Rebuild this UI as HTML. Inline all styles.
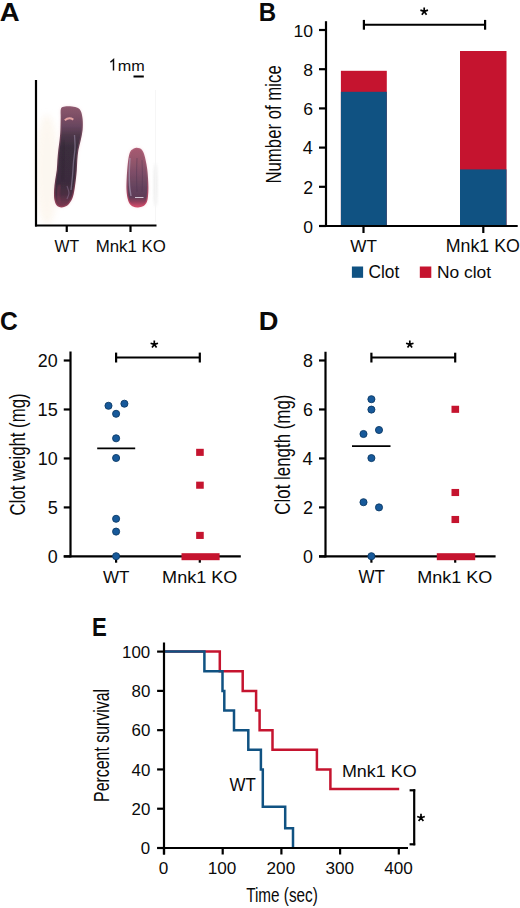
<!DOCTYPE html>
<html><head><meta charset="utf-8"><style>
html,body{margin:0;padding:0;background:#fff;}
svg{display:block;}
text{font-family:"Liberation Sans",sans-serif;fill:#0a0a0a;}
</style></head><body>
<svg width="520" height="908" viewBox="0 0 520 908">
<rect width="520" height="908" fill="#fff"/>
<text x="-0.39" y="20.80" font-size="26.04" font-weight="bold" textLength="19.89" lengthAdjust="spacingAndGlyphs">A</text>
<text x="258.87" y="20.80" font-size="26.04" font-weight="bold" textLength="17.40" lengthAdjust="spacingAndGlyphs">B</text>
<text x="-0.08" y="330.43" font-size="26.57" font-weight="bold" textLength="17.75" lengthAdjust="spacingAndGlyphs">C</text>
<text x="258.66" y="330.40" font-size="26.04" font-weight="bold" textLength="19.69" lengthAdjust="spacingAndGlyphs">D</text>
<text x="92.01" y="635.70" font-size="26.47" font-weight="bold" textLength="14.77" lengthAdjust="spacingAndGlyphs">E</text>
<g id="photo">
<defs>
<filter id="bl1" x="-50%" y="-50%" width="200%" height="200%"><feGaussianBlur stdDeviation="0.9"/></filter>
<filter id="bl2" x="-30%" y="-30%" width="160%" height="160%"><feGaussianBlur stdDeviation="0.55"/></filter>
<filter id="bl4" x="-50%" y="-50%" width="200%" height="200%"><feGaussianBlur stdDeviation="1.6"/></filter>
<filter id="bl3" x="-50%" y="-50%" width="200%" height="200%"><feGaussianBlur stdDeviation="3"/></filter>
<linearGradient id="wtr" x1="0" y1="0" x2="0" y2="1">
<stop offset="0" stop-color="#8e5a70"/><stop offset="0.3" stop-color="#6a4458"/><stop offset="0.7" stop-color="#5a3448"/><stop offset="1" stop-color="#944058"/></linearGradient>
<linearGradient id="wtg" x1="0" y1="0" x2="0" y2="1">
<stop offset="0" stop-color="#8a566c"/><stop offset="0.08" stop-color="#7e5066"/><stop offset="0.18" stop-color="#6a4660"/><stop offset="0.28" stop-color="#4e384a"/><stop offset="0.4" stop-color="#3b2d3e"/>
<stop offset="0.75" stop-color="#3a2c3c"/><stop offset="0.88" stop-color="#4a2e42"/><stop offset="1" stop-color="#7a3850"/></linearGradient>
<linearGradient id="kor" x1="0" y1="0" x2="0" y2="1">
<stop offset="0" stop-color="#b06078"/><stop offset="0.5" stop-color="#8a5068"/><stop offset="0.85" stop-color="#a84260"/><stop offset="1" stop-color="#d04a68"/></linearGradient>
<linearGradient id="kog" x1="0" y1="0" x2="0" y2="1">
<stop offset="0" stop-color="#a65a70"/><stop offset="0.2" stop-color="#94566c"/><stop offset="0.45" stop-color="#7a4c66"/>
<stop offset="0.65" stop-color="#66445e"/><stop offset="0.84" stop-color="#5e3c58"/><stop offset="0.92" stop-color="#8e3c5a"/><stop offset="1" stop-color="#c84a68"/></linearGradient>
</defs>
<ellipse cx="47" cy="170" rx="12" ry="55" fill="#fcf4ea" opacity="0.7" filter="url(#bl3)"/>
<path d="M61.00,108.50 C61.72,106.57 63.17,106.75 65.00,106.40 C66.83,106.05 69.83,106.13 72.00,106.40 C74.17,106.67 76.47,107.07 78.00,108.00 C79.53,108.93 80.42,110.00 81.20,112.00 C81.98,114.00 82.47,117.00 82.70,120.00 C82.93,123.00 82.92,126.67 82.60,130.00 C82.28,133.33 81.50,136.67 80.80,140.00 C80.10,143.33 78.98,146.67 78.40,150.00 C77.82,153.33 77.57,156.67 77.30,160.00 C77.03,163.33 77.05,166.67 76.80,170.00 C76.55,173.33 76.20,176.67 75.80,180.00 C75.40,183.33 74.95,187.00 74.40,190.00 C73.85,193.00 73.57,195.50 72.50,198.00 C71.43,200.50 69.83,203.43 68.00,205.00 C66.17,206.57 63.40,207.37 61.50,207.40 C59.60,207.43 57.80,206.60 56.60,205.20 C55.40,203.80 54.72,201.53 54.30,199.00 C53.88,196.47 53.95,193.17 54.10,190.00 C54.25,186.83 54.75,183.33 55.20,180.00 C55.65,176.67 56.43,173.33 56.80,170.00 C57.17,166.67 57.15,163.33 57.40,160.00 C57.65,156.67 57.93,153.33 58.30,150.00 C58.67,146.67 59.25,143.33 59.60,140.00 C59.95,136.67 60.22,133.67 60.40,130.00 C60.58,126.33 60.60,121.58 60.70,118.00 C60.80,114.42 60.28,110.43 61.00,108.50Z" fill="#f2c8d0" opacity="0.55" filter="url(#bl4)"/>
<path d="M131.50,150.00 C132.52,148.98 134.17,148.18 135.50,147.90 C136.83,147.62 138.38,147.90 139.50,148.30 C140.62,148.70 141.42,149.27 142.20,150.30 C142.98,151.33 143.60,152.72 144.20,154.50 C144.80,156.28 145.30,158.58 145.80,161.00 C146.30,163.42 146.83,166.17 147.20,169.00 C147.57,171.83 147.80,174.83 148.00,178.00 C148.20,181.17 148.40,185.00 148.40,188.00 C148.40,191.00 148.27,193.67 148.00,196.00 C147.73,198.33 147.55,200.33 146.80,202.00 C146.05,203.67 144.97,205.10 143.50,206.00 C142.03,206.90 139.75,207.32 138.00,207.40 C136.25,207.48 134.42,207.15 133.00,206.50 C131.58,205.85 130.42,204.92 129.50,203.50 C128.58,202.08 128.00,200.25 127.50,198.00 C127.00,195.75 126.65,193.00 126.50,190.00 C126.35,187.00 126.48,183.33 126.60,180.00 C126.72,176.67 126.95,173.17 127.20,170.00 C127.45,166.83 127.73,163.67 128.10,161.00 C128.47,158.33 128.83,155.83 129.40,154.00 C129.97,152.17 130.48,151.02 131.50,150.00Z" fill="#f2c0cc" opacity="0.55" filter="url(#bl4)"/>
<path d="M61.00,108.50 C61.72,106.57 63.17,106.75 65.00,106.40 C66.83,106.05 69.83,106.13 72.00,106.40 C74.17,106.67 76.47,107.07 78.00,108.00 C79.53,108.93 80.42,110.00 81.20,112.00 C81.98,114.00 82.47,117.00 82.70,120.00 C82.93,123.00 82.92,126.67 82.60,130.00 C82.28,133.33 81.50,136.67 80.80,140.00 C80.10,143.33 78.98,146.67 78.40,150.00 C77.82,153.33 77.57,156.67 77.30,160.00 C77.03,163.33 77.05,166.67 76.80,170.00 C76.55,173.33 76.20,176.67 75.80,180.00 C75.40,183.33 74.95,187.00 74.40,190.00 C73.85,193.00 73.57,195.50 72.50,198.00 C71.43,200.50 69.83,203.43 68.00,205.00 C66.17,206.57 63.40,207.37 61.50,207.40 C59.60,207.43 57.80,206.60 56.60,205.20 C55.40,203.80 54.72,201.53 54.30,199.00 C53.88,196.47 53.95,193.17 54.10,190.00 C54.25,186.83 54.75,183.33 55.20,180.00 C55.65,176.67 56.43,173.33 56.80,170.00 C57.17,166.67 57.15,163.33 57.40,160.00 C57.65,156.67 57.93,153.33 58.30,150.00 C58.67,146.67 59.25,143.33 59.60,140.00 C59.95,136.67 60.22,133.67 60.40,130.00 C60.58,126.33 60.60,121.58 60.70,118.00 C60.80,114.42 60.28,110.43 61.00,108.50Z" fill="url(#wtr)" filter="url(#bl2)"/>
<path d="M62.22,108.95 C62.76,107.23 63.64,107.89 65.24,107.68 C66.85,107.47 69.83,107.45 71.84,107.69 C73.85,107.93 75.97,108.31 77.32,109.11 C78.68,109.91 79.31,110.64 79.99,112.47 C80.67,114.31 81.18,117.20 81.40,120.10 C81.62,123.00 81.62,126.61 81.31,129.88 C80.99,133.15 80.23,136.42 79.53,139.73 C78.83,143.05 77.71,146.42 77.12,149.78 C76.53,153.14 76.27,156.54 76.00,159.90 C75.73,163.25 75.75,166.58 75.50,169.90 C75.25,173.23 74.91,176.53 74.51,179.85 C74.11,183.16 73.66,186.82 73.12,189.77 C72.59,192.71 72.30,195.12 71.30,197.49 C70.31,199.86 68.79,202.58 67.16,204.01 C65.52,205.45 63.07,206.04 61.48,206.10 C59.88,206.16 58.57,205.57 57.59,204.35 C56.60,203.14 55.95,201.17 55.58,198.79 C55.22,196.41 55.25,193.16 55.40,190.06 C55.55,186.96 56.04,183.49 56.49,180.17 C56.94,176.85 57.72,173.49 58.09,170.14 C58.46,166.80 58.45,163.43 58.70,160.10 C58.95,156.76 59.23,153.47 59.59,150.14 C59.96,146.82 60.54,143.48 60.89,140.14 C61.24,136.79 61.51,133.75 61.70,130.06 C61.88,126.38 61.91,121.56 62.00,118.04 C62.09,114.52 61.68,110.68 62.22,108.95Z" fill="url(#wtg)" filter="url(#bl2)"/>
<path d="M64.8,120.2 Q69,116.8 73.3,119.6" stroke="#e4a2a2" stroke-width="2" fill="none" filter="url(#bl2)"/>
<path d="M74.50,135.00 C74.58,137.17 75.17,143.50 75.00,148.00 C74.83,152.50 73.92,157.33 73.50,162.00 C73.08,166.67 72.92,171.33 72.50,176.00 C72.08,180.67 71.25,187.67 71.00,190.00" stroke="#8a7c96" stroke-width="1.3" fill="none" opacity="0.7" filter="url(#bl2)"/>
<path d="M64.00,140.00 C63.92,143.33 63.75,153.33 63.50,160.00 C63.25,166.67 62.67,176.67 62.50,180.00" stroke="#271c29" stroke-width="2" fill="none" opacity="0.3" filter="url(#bl1)"/>
<path d="M59.50,185.00 C59.28,186.67 58.12,192.00 58.20,195.00 C58.28,198.00 59.70,201.67 60.00,203.00" stroke="#8a3a55" stroke-width="2.4" fill="none" opacity="0.5" filter="url(#bl1)"/>
<path d="M67.00,186.00 C67.33,187.17 69.00,190.83 69.00,193.00 C69.00,195.17 67.33,198.00 67.00,199.00" stroke="#8a7090" stroke-width="1.2" fill="none" opacity="0.55" filter="url(#bl2)"/>
<path d="M131.50,150.00 C132.52,148.98 134.17,148.18 135.50,147.90 C136.83,147.62 138.38,147.90 139.50,148.30 C140.62,148.70 141.42,149.27 142.20,150.30 C142.98,151.33 143.60,152.72 144.20,154.50 C144.80,156.28 145.30,158.58 145.80,161.00 C146.30,163.42 146.83,166.17 147.20,169.00 C147.57,171.83 147.80,174.83 148.00,178.00 C148.20,181.17 148.40,185.00 148.40,188.00 C148.40,191.00 148.27,193.67 148.00,196.00 C147.73,198.33 147.55,200.33 146.80,202.00 C146.05,203.67 144.97,205.10 143.50,206.00 C142.03,206.90 139.75,207.32 138.00,207.40 C136.25,207.48 134.42,207.15 133.00,206.50 C131.58,205.85 130.42,204.92 129.50,203.50 C128.58,202.08 128.00,200.25 127.50,198.00 C127.00,195.75 126.65,193.00 126.50,190.00 C126.35,187.00 126.48,183.33 126.60,180.00 C126.72,176.67 126.95,173.17 127.20,170.00 C127.45,166.83 127.73,163.67 128.10,161.00 C128.47,158.33 128.83,155.83 129.40,154.00 C129.97,152.17 130.48,151.02 131.50,150.00Z" fill="url(#kor)" filter="url(#bl2)"/>
<path d="M132.42,150.92 C133.27,150.05 134.66,149.40 135.77,149.17 C136.88,148.94 138.16,149.20 139.06,149.52 C139.96,149.84 140.51,150.19 141.16,151.09 C141.82,151.98 142.41,153.22 142.97,154.91 C143.53,156.61 144.04,158.89 144.53,161.26 C145.02,163.64 145.55,166.36 145.91,169.17 C146.27,171.97 146.50,174.94 146.70,178.08 C146.90,181.22 147.10,185.04 147.10,188.00 C147.10,190.96 146.96,193.61 146.71,195.85 C146.46,198.10 146.26,199.96 145.61,201.47 C144.97,202.97 144.10,204.12 142.82,204.89 C141.54,205.66 139.48,206.03 137.94,206.10 C136.39,206.17 134.77,205.87 133.54,205.32 C132.32,204.77 131.39,204.06 130.59,202.79 C129.80,201.53 129.23,199.86 128.77,197.72 C128.30,195.57 127.94,192.88 127.80,189.94 C127.65,186.99 127.78,183.35 127.90,180.05 C128.02,176.74 128.25,173.25 128.50,170.10 C128.74,166.96 129.03,163.80 129.39,161.18 C129.75,158.56 130.14,156.09 130.64,154.38 C131.15,152.67 131.56,151.79 132.42,150.92Z" fill="url(#kog)" filter="url(#bl2)"/>
<path d="M130.00,158.00 C129.88,160.33 129.37,167.33 129.30,172.00 C129.23,176.67 129.32,182.00 129.60,186.00 C129.88,190.00 130.77,194.33 131.00,196.00" stroke="#b0a0bc" stroke-width="1.4" fill="none" opacity="0.6" filter="url(#bl2)"/>
<path d="M137.00,158.00 C136.92,160.83 136.50,169.33 136.50,175.00 C136.50,180.67 136.92,189.17 137.00,192.00" stroke="#4a3250" stroke-width="1.2" fill="none" opacity="0.35" filter="url(#bl2)"/>
<path d="M142.00,160.00 C142.08,162.67 142.50,170.67 142.50,176.00 C142.50,181.33 142.08,189.33 142.00,192.00" stroke="#4a3250" stroke-width="1.2" fill="none" opacity="0.3" filter="url(#bl2)"/>
<path d="M135,197.8 L143.5,197.6" stroke="#e4dce8" stroke-width="1.8" fill="none" opacity="0.85" filter="url(#bl2)"/>
<ellipse cx="155.5" cy="185" rx="1.6" ry="22" fill="#dcdcdc" opacity="0.6" filter="url(#bl4)"/>
<line x1="155.6" y1="90" x2="155.6" y2="222" stroke="#f6f6f6" stroke-width="1"/>
</g>

<path d="M113.5,70.6 L113.5,59.6 L110.4,62.2" stroke="#0a0a0a" stroke-width="1.45" fill="none" stroke-linejoin="miter"/>
<text x="117.71" y="70.60" font-size="14.70" textLength="26.96" lengthAdjust="spacingAndGlyphs">mm</text>
<rect x="133.50" y="75.50" width="10.30" height="2.00" fill="#000"/>
<line x1="36.00" y1="80.00" x2="36.00" y2="226.50" stroke="#000" stroke-width="2.2" stroke-linecap="butt"/>
<line x1="35.00" y1="225.50" x2="156.50" y2="225.50" stroke="#000" stroke-width="2.2" stroke-linecap="butt"/>
<line x1="66.75" y1="225.50" x2="66.75" y2="232.00" stroke="#000" stroke-width="2.2" stroke-linecap="butt"/>
<line x1="130.50" y1="225.50" x2="130.50" y2="232.00" stroke="#000" stroke-width="2.2" stroke-linecap="butt"/>
<text x="54.52" y="251.70" font-size="17.02" textLength="24.63" lengthAdjust="spacingAndGlyphs">WT</text>
<text x="95.71" y="251.63" font-size="17.14" textLength="70.20" lengthAdjust="spacingAndGlyphs">Mnk1 KO</text>
<rect x="340.90" y="70.80" width="45.90" height="154.20" fill="#c5142f"/>
<rect x="340.90" y="91.80" width="45.90" height="133.20" fill="#105282"/>
<rect x="460.00" y="51.00" width="46.50" height="174.00" fill="#c5142f"/>
<rect x="460.00" y="169.40" width="46.50" height="55.60" fill="#105282"/>
<line x1="326.00" y1="21.20" x2="326.00" y2="227.00" stroke="#000" stroke-width="2.2" stroke-linecap="butt"/>
<line x1="319.00" y1="226.00" x2="326.00" y2="226.00" stroke="#000" stroke-width="2.2" stroke-linecap="butt"/>
<text x="303.20" y="232.63" font-size="17.24" textLength="9.78" lengthAdjust="spacingAndGlyphs">0</text>
<line x1="319.00" y1="186.80" x2="326.00" y2="186.80" stroke="#000" stroke-width="2.2" stroke-linecap="butt"/>
<text x="303.29" y="193.60" font-size="17.49" textLength="9.92" lengthAdjust="spacingAndGlyphs">2</text>
<line x1="319.00" y1="147.60" x2="326.00" y2="147.60" stroke="#000" stroke-width="2.2" stroke-linecap="butt"/>
<text x="302.75" y="154.40" font-size="17.75" textLength="10.07" lengthAdjust="spacingAndGlyphs">4</text>
<line x1="319.00" y1="108.40" x2="326.00" y2="108.40" stroke="#000" stroke-width="2.2" stroke-linecap="butt"/>
<text x="303.29" y="115.03" font-size="17.24" textLength="9.78" lengthAdjust="spacingAndGlyphs">6</text>
<line x1="319.00" y1="69.20" x2="326.00" y2="69.20" stroke="#000" stroke-width="2.2" stroke-linecap="butt"/>
<text x="303.29" y="75.83" font-size="17.24" textLength="9.78" lengthAdjust="spacingAndGlyphs">8</text>
<line x1="319.00" y1="30.00" x2="326.00" y2="30.00" stroke="#000" stroke-width="2.2" stroke-linecap="butt"/>
<text x="293.44" y="36.63" font-size="17.24" textLength="19.56" lengthAdjust="spacingAndGlyphs">10</text>
<line x1="319.00" y1="226.00" x2="517.70" y2="226.00" stroke="#000" stroke-width="2.2" stroke-linecap="butt"/>
<line x1="363.50" y1="226.00" x2="363.50" y2="233.00" stroke="#000" stroke-width="2.2" stroke-linecap="butt"/>
<line x1="483.30" y1="226.00" x2="483.30" y2="233.00" stroke="#000" stroke-width="2.2" stroke-linecap="butt"/>
<line x1="363.90" y1="24.70" x2="485.10" y2="24.70" stroke="#000" stroke-width="2" stroke-linecap="butt"/>
<line x1="363.90" y1="19.90" x2="363.90" y2="29.70" stroke="#000" stroke-width="2.2" stroke-linecap="butt"/>
<line x1="485.10" y1="19.90" x2="485.10" y2="29.70" stroke="#000" stroke-width="2.2" stroke-linecap="butt"/>
<path d="M424.20,11.40L424.20,7.40M424.20,11.40L428.00,10.16M424.20,11.40L426.55,14.64M424.20,11.40L421.85,14.64M424.20,11.40L420.40,10.16" stroke="#000" stroke-width="1.7" stroke-linecap="butt" fill="none"/>
<text x="350.21" y="252.00" font-size="17.02" textLength="26.67" lengthAdjust="spacingAndGlyphs">WT</text>
<text x="445.73" y="252.12" font-size="17.82" textLength="74.12" lengthAdjust="spacingAndGlyphs">Mnk1 KO</text>
<rect x="351.90" y="266.50" width="11.20" height="11.30" fill="#105282"/>
<text x="368.43" y="278.42" font-size="17.69" textLength="30.81" lengthAdjust="spacingAndGlyphs">Clot</text>
<rect x="419.80" y="266.50" width="11.50" height="11.40" fill="#c5142f"/>
<text x="436.96" y="278.43" font-size="17.41" textLength="54.16" lengthAdjust="spacingAndGlyphs">No clot</text>
<text transform="translate(281.19,183.58) rotate(-90)" x="0" y="0" font-size="21.50" textLength="118.30" lengthAdjust="spacingAndGlyphs">Number of mice</text>
<line x1="70.50" y1="351.50" x2="70.50" y2="557.40" stroke="#000" stroke-width="2.2" stroke-linecap="butt"/>
<line x1="63.75" y1="556.40" x2="70.50" y2="556.40" stroke="#000" stroke-width="2.2" stroke-linecap="butt"/>
<text x="47.75" y="562.62" font-size="17.53" textLength="9.94" lengthAdjust="spacingAndGlyphs">0</text>
<line x1="63.75" y1="507.42" x2="70.50" y2="507.42" stroke="#000" stroke-width="2.2" stroke-linecap="butt"/>
<text x="47.66" y="513.65" font-size="17.78" textLength="10.09" lengthAdjust="spacingAndGlyphs">5</text>
<line x1="63.75" y1="458.45" x2="70.50" y2="458.45" stroke="#000" stroke-width="2.2" stroke-linecap="butt"/>
<text x="37.83" y="464.67" font-size="17.53" textLength="19.89" lengthAdjust="spacingAndGlyphs">10</text>
<line x1="63.75" y1="409.47" x2="70.50" y2="409.47" stroke="#000" stroke-width="2.2" stroke-linecap="butt"/>
<text x="37.60" y="415.70" font-size="17.78" textLength="20.17" lengthAdjust="spacingAndGlyphs">15</text>
<line x1="63.75" y1="360.50" x2="70.50" y2="360.50" stroke="#000" stroke-width="2.2" stroke-linecap="butt"/>
<text x="37.83" y="366.72" font-size="17.53" textLength="19.89" lengthAdjust="spacingAndGlyphs">20</text>
<line x1="63.75" y1="556.40" x2="240.80" y2="556.40" stroke="#000" stroke-width="2.2" stroke-linecap="butt"/>
<line x1="116.10" y1="556.40" x2="116.10" y2="562.70" stroke="#000" stroke-width="2.2" stroke-linecap="butt"/>
<line x1="199.80" y1="556.40" x2="199.80" y2="562.70" stroke="#000" stroke-width="2.2" stroke-linecap="butt"/>
<line x1="116.10" y1="357.60" x2="199.80" y2="357.60" stroke="#000" stroke-width="2" stroke-linecap="butt"/>
<line x1="116.10" y1="352.60" x2="116.10" y2="362.50" stroke="#000" stroke-width="2.2" stroke-linecap="butt"/>
<line x1="199.80" y1="352.60" x2="199.80" y2="362.50" stroke="#000" stroke-width="2.2" stroke-linecap="butt"/>
<path d="M154.30,344.40L154.30,340.50M154.30,344.40L158.01,343.19M154.30,344.40L156.59,347.56M154.30,344.40L152.01,347.56M154.30,344.40L150.59,343.19" stroke="#000" stroke-width="1.7" stroke-linecap="butt" fill="none"/>
<line x1="97.20" y1="448.40" x2="135.20" y2="448.40" stroke="#000" stroke-width="1.7" stroke-linecap="butt"/>
<circle cx="108.5" cy="405.8" r="3.55" fill="#17599a" stroke="#0b3a66" stroke-width="0.9"/>
<circle cx="124.4" cy="403.7" r="3.55" fill="#17599a" stroke="#0b3a66" stroke-width="0.9"/>
<circle cx="116.1" cy="413.8" r="3.55" fill="#17599a" stroke="#0b3a66" stroke-width="0.9"/>
<circle cx="116.1" cy="438.3" r="3.55" fill="#17599a" stroke="#0b3a66" stroke-width="0.9"/>
<circle cx="116.1" cy="458" r="3.55" fill="#17599a" stroke="#0b3a66" stroke-width="0.9"/>
<circle cx="116.1" cy="518.8" r="3.55" fill="#17599a" stroke="#0b3a66" stroke-width="0.9"/>
<circle cx="116.1" cy="531.6" r="3.55" fill="#17599a" stroke="#0b3a66" stroke-width="0.9"/>
<circle cx="116.1" cy="556.2" r="3.55" fill="#17599a" stroke="#0b3a66" stroke-width="0.9"/>
<rect x="196.15" y="448.80" width="7.60" height="7.10" fill="#c5142f"/>
<rect x="196.15" y="481.65" width="7.60" height="7.10" fill="#c5142f"/>
<rect x="196.15" y="531.85" width="7.60" height="7.10" fill="#c5142f"/>
<rect x="181.50" y="553.20" width="38.10" height="7.00" fill="#c5142f"/>
<text x="103.01" y="582.70" font-size="17.16" textLength="26.46" lengthAdjust="spacingAndGlyphs">WT</text>
<text x="162.11" y="582.83" font-size="17.41" textLength="75.26" lengthAdjust="spacingAndGlyphs">Mnk1 KO</text>
<text transform="translate(25.06,515.44) rotate(-90)" x="0" y="0" font-size="21.88" textLength="121.99" lengthAdjust="spacingAndGlyphs">Clot weight (mg)</text>
<line x1="325.50" y1="351.75" x2="325.50" y2="557.40" stroke="#000" stroke-width="2.2" stroke-linecap="butt"/>
<line x1="319.00" y1="556.40" x2="325.50" y2="556.40" stroke="#000" stroke-width="2.2" stroke-linecap="butt"/>
<text x="303.05" y="562.62" font-size="17.53" textLength="9.94" lengthAdjust="spacingAndGlyphs">0</text>
<line x1="319.00" y1="507.42" x2="325.50" y2="507.42" stroke="#000" stroke-width="2.2" stroke-linecap="butt"/>
<text x="303.14" y="513.82" font-size="17.78" textLength="10.09" lengthAdjust="spacingAndGlyphs">2</text>
<line x1="319.00" y1="458.44" x2="325.50" y2="458.44" stroke="#000" stroke-width="2.2" stroke-linecap="butt"/>
<text x="302.60" y="464.84" font-size="18.04" textLength="10.23" lengthAdjust="spacingAndGlyphs">4</text>
<line x1="319.00" y1="409.46" x2="325.50" y2="409.46" stroke="#000" stroke-width="2.2" stroke-linecap="butt"/>
<text x="303.14" y="415.68" font-size="17.53" textLength="9.94" lengthAdjust="spacingAndGlyphs">6</text>
<line x1="319.00" y1="360.48" x2="325.50" y2="360.48" stroke="#000" stroke-width="2.2" stroke-linecap="butt"/>
<text x="303.14" y="366.70" font-size="17.53" textLength="9.94" lengthAdjust="spacingAndGlyphs">8</text>
<line x1="319.00" y1="556.40" x2="495.60" y2="556.40" stroke="#000" stroke-width="2.2" stroke-linecap="butt"/>
<line x1="371.40" y1="556.40" x2="371.40" y2="562.70" stroke="#000" stroke-width="2.2" stroke-linecap="butt"/>
<line x1="455.20" y1="556.40" x2="455.20" y2="562.70" stroke="#000" stroke-width="2.2" stroke-linecap="butt"/>
<line x1="371.40" y1="357.60" x2="455.20" y2="357.60" stroke="#000" stroke-width="2" stroke-linecap="butt"/>
<line x1="371.40" y1="352.70" x2="371.40" y2="362.50" stroke="#000" stroke-width="2.2" stroke-linecap="butt"/>
<line x1="455.20" y1="352.70" x2="455.20" y2="362.50" stroke="#000" stroke-width="2.2" stroke-linecap="butt"/>
<path d="M409.80,344.40L409.80,340.50M409.80,344.40L413.51,343.19M409.80,344.40L412.09,347.56M409.80,344.40L407.51,347.56M409.80,344.40L406.09,343.19" stroke="#000" stroke-width="1.7" stroke-linecap="butt" fill="none"/>
<line x1="352.00" y1="446.10" x2="390.50" y2="446.10" stroke="#000" stroke-width="1.7" stroke-linecap="butt"/>
<circle cx="371.4" cy="399.2" r="3.55" fill="#17599a" stroke="#0b3a66" stroke-width="0.9"/>
<circle cx="371.4" cy="409.6" r="3.55" fill="#17599a" stroke="#0b3a66" stroke-width="0.9"/>
<circle cx="363.5" cy="434" r="3.55" fill="#17599a" stroke="#0b3a66" stroke-width="0.9"/>
<circle cx="379" cy="430" r="3.55" fill="#17599a" stroke="#0b3a66" stroke-width="0.9"/>
<circle cx="371.4" cy="458.1" r="3.55" fill="#17599a" stroke="#0b3a66" stroke-width="0.9"/>
<circle cx="363.5" cy="502.2" r="3.55" fill="#17599a" stroke="#0b3a66" stroke-width="0.9"/>
<circle cx="379" cy="507.4" r="3.55" fill="#17599a" stroke="#0b3a66" stroke-width="0.9"/>
<circle cx="371.4" cy="556.2" r="3.55" fill="#17599a" stroke="#0b3a66" stroke-width="0.9"/>
<rect x="451.50" y="405.75" width="7.60" height="7.10" fill="#c5142f"/>
<rect x="451.50" y="488.95" width="7.60" height="7.10" fill="#c5142f"/>
<rect x="451.50" y="515.95" width="7.60" height="7.10" fill="#c5142f"/>
<rect x="436.80" y="553.20" width="38.40" height="7.00" fill="#c5142f"/>
<text x="358.41" y="582.80" font-size="17.45" textLength="26.46" lengthAdjust="spacingAndGlyphs">WT</text>
<text x="417.21" y="582.83" font-size="17.41" textLength="75.05" lengthAdjust="spacingAndGlyphs">Mnk1 KO</text>
<text transform="translate(290.04,514.64) rotate(-90)" x="0" y="0" font-size="21.98" textLength="120.02" lengthAdjust="spacingAndGlyphs">Clot length (mg)</text>
<polyline points="164,651.60 219.8,651.60 219.8,671.24 242.7,671.24 242.7,690.88 256.1,690.88 256.1,710.52 259.6,710.52 259.6,730.16 272.5,730.16 272.5,749.80 316.9,749.80 316.9,769.44 330.4,769.44 330.4,789.08 399.2,789.08" fill="none" stroke="#c5142f" stroke-width="2.5" stroke-linejoin="miter"/>
<polyline points="164,651.60 204.4,651.60 204.4,671.24 222.5,671.24 222.5,690.88 224.3,690.88 224.3,710.52 234,710.52 234,730.16 248.3,730.16 248.3,749.80 260.9,749.80 260.9,769.44 262.8,769.44 262.8,806.76 285.2,806.76 285.2,828.36 293,828.36 293,848.00" fill="none" stroke="#105282" stroke-width="2.5" stroke-linejoin="miter"/>
<line x1="164.00" y1="642.50" x2="164.00" y2="854.50" stroke="#000" stroke-width="2.2" stroke-linecap="butt"/>
<line x1="157.10" y1="848.00" x2="164.00" y2="848.00" stroke="#000" stroke-width="2.2" stroke-linecap="butt"/>
<text x="140.87" y="854.28" font-size="16.54" textLength="9.38" lengthAdjust="spacingAndGlyphs">0</text>
<line x1="157.10" y1="808.72" x2="164.00" y2="808.72" stroke="#000" stroke-width="2.2" stroke-linecap="butt"/>
<text x="131.51" y="815.00" font-size="16.54" textLength="18.76" lengthAdjust="spacingAndGlyphs">20</text>
<line x1="157.10" y1="769.44" x2="164.00" y2="769.44" stroke="#000" stroke-width="2.2" stroke-linecap="butt"/>
<text x="131.51" y="775.72" font-size="16.54" textLength="18.76" lengthAdjust="spacingAndGlyphs">40</text>
<line x1="157.10" y1="730.16" x2="164.00" y2="730.16" stroke="#000" stroke-width="2.2" stroke-linecap="butt"/>
<text x="131.51" y="736.44" font-size="16.54" textLength="18.76" lengthAdjust="spacingAndGlyphs">60</text>
<line x1="157.10" y1="690.88" x2="164.00" y2="690.88" stroke="#000" stroke-width="2.2" stroke-linecap="butt"/>
<text x="131.51" y="697.16" font-size="16.54" textLength="18.76" lengthAdjust="spacingAndGlyphs">80</text>
<line x1="157.10" y1="651.60" x2="164.00" y2="651.60" stroke="#000" stroke-width="2.2" stroke-linecap="butt"/>
<text x="122.11" y="657.88" font-size="16.54" textLength="28.14" lengthAdjust="spacingAndGlyphs">100</text>
<line x1="157.50" y1="848.00" x2="408.00" y2="848.00" stroke="#000" stroke-width="2.2" stroke-linecap="butt"/>
<line x1="164.00" y1="848.00" x2="164.00" y2="854.50" stroke="#000" stroke-width="2.2" stroke-linecap="butt"/>
<text x="158.82" y="874.03" font-size="16.82" textLength="9.54" lengthAdjust="spacingAndGlyphs">0</text>
<line x1="222.70" y1="848.00" x2="222.70" y2="854.50" stroke="#000" stroke-width="2.2" stroke-linecap="butt"/>
<text x="207.67" y="874.03" font-size="16.82" textLength="28.63" lengthAdjust="spacingAndGlyphs">100</text>
<line x1="281.40" y1="848.00" x2="281.40" y2="854.50" stroke="#000" stroke-width="2.2" stroke-linecap="butt"/>
<text x="266.59" y="874.03" font-size="16.82" textLength="28.63" lengthAdjust="spacingAndGlyphs">200</text>
<line x1="340.10" y1="848.00" x2="340.10" y2="854.50" stroke="#000" stroke-width="2.2" stroke-linecap="butt"/>
<text x="325.40" y="874.03" font-size="16.82" textLength="28.63" lengthAdjust="spacingAndGlyphs">300</text>
<line x1="398.80" y1="848.00" x2="398.80" y2="854.50" stroke="#000" stroke-width="2.2" stroke-linecap="butt"/>
<text x="384.22" y="874.03" font-size="16.82" textLength="28.63" lengthAdjust="spacingAndGlyphs">400</text>
<text x="246.16" y="901.82" font-size="21.13" textLength="71.60" lengthAdjust="spacingAndGlyphs">Time (sec)</text>
<text transform="translate(109.08,801.91) rotate(-90)" x="0" y="0" font-size="21.90" textLength="112.97" lengthAdjust="spacingAndGlyphs">Percent survival</text>
<text x="229.62" y="791.40" font-size="17.45" textLength="26.36" lengthAdjust="spacingAndGlyphs">WT</text>
<text x="341.92" y="776.83" font-size="17.28" textLength="74.74" lengthAdjust="spacingAndGlyphs">Mnk1 KO</text>
<line x1="414.20" y1="789.30" x2="414.20" y2="845.30" stroke="#000" stroke-width="2.2" stroke-linecap="butt"/>
<line x1="409.60" y1="790.30" x2="415.20" y2="790.30" stroke="#000" stroke-width="2.2" stroke-linecap="butt"/>
<line x1="409.60" y1="844.30" x2="415.20" y2="844.30" stroke="#000" stroke-width="2.2" stroke-linecap="butt"/>
<path d="M421.00,817.80L421.00,813.80M421.00,817.80L424.80,816.56M421.00,817.80L423.35,821.04M421.00,817.80L418.65,821.04M421.00,817.80L417.20,816.56" stroke="#000" stroke-width="1.7" stroke-linecap="butt" fill="none"/>
</svg>
</body></html>
